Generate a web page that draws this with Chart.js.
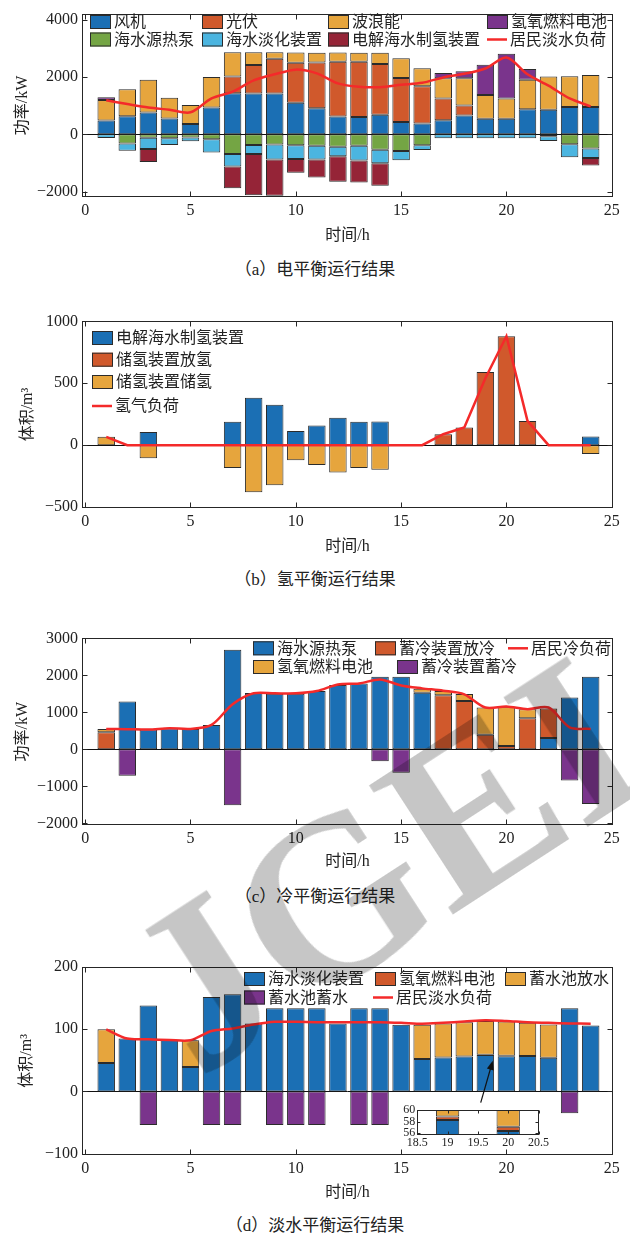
<!DOCTYPE html>
<html><head><meta charset="utf-8">
<script src="https://cdn.jsdelivr.net/npm/chart.js@4.4.0/dist/chart.umd.min.js"></script>
<style>
body{margin:0;background:#fff;width:630px;height:1241px;position:relative;overflow:hidden;}
canvas{position:absolute;}
.cap{position:absolute;left:0;width:630px;text-align:center;font-family:'Times New Roman','Liberation Serif','Noto Sans CJK SC',serif;font-size:17px;color:#222;line-height:20px;}
#wm{position:absolute;left:385px;top:865px;transform:translate(-50%,-50%) rotate(-33deg);font-family:'Times New Roman','Liberation Serif',serif;font-weight:bold;font-size:235px;color:#c6c6c6;mix-blend-mode:multiply;white-space:nowrap;pointer-events:none;line-height:1;}
</style></head><body>
<canvas id="ca" width="630" height="252" style="left:0;top:0"></canvas>
<canvas id="cb" width="630" height="260" style="left:0;top:300px"></canvas>
<canvas id="cc" width="630" height="262" style="left:0;top:615px"></canvas>
<canvas id="cd" width="630" height="263" style="left:0;top:945px"></canvas>
<canvas id="ci" width="160" height="52" style="left:390px;top:1100px"></canvas>
<div class="cap" style="top:260px">（a）电平衡运行结果</div>
<div class="cap" style="top:570px">（b）氢平衡运行结果</div>
<div class="cap" style="top:887px">（c）冷平衡运行结果</div>
<div class="cap" style="top:1216px">（d）淡水平衡运行结果</div>
<div id="wm">JGEI</div>
<script>
// ---------- data ----------
const hours = [1,2,3,4,5,6,7,8,9,10,11,12,13,14,15,16,17,18,19,20,21,22,23,24];
const xTicks = [0,5,10,15,20,25];

// (a) electricity balance, kW
const aWind  = [480,630,765,550,365,935,1440,1430,1430,1100,915,627,605,685,433,377,490,662,548,548,878,857,960,960];
const aPV    = [0,0,0,0,0,0,580,990,1210,1400,1600,1910,1930,1770,1535,1303,765,342,0,0,0,0,0,0];
const aWave  = [720,950,1140,730,665,1065,850,450,230,360,340,320,320,400,690,627,709,960,823,707,1028,1165,1073,1118];
const aFC    = [100,0,0,0,0,0,0,0,0,0,0,0,0,0,0,0,183,240,1063,1566,380,0,0,0];
const aHP    = [0,-320,-115,-135,-110,-170,-686,-370,-355,-385,-400,-435,-400,-540,-585,-377,0,0,0,0,0,-70,-343,-493];
const aDesal = [-130,-250,-400,-240,-130,-460,-435,-316,-520,-480,-480,-330,-515,-470,-320,-171,-137,-137,-137,-137,-137,-160,-457,-330];
const aElec  = [0,0,-450,0,0,0,-765,-1440,-1270,-480,-630,-890,-765,-790,0,0,0,0,0,0,0,0,0,-264];
const aLoad  = [1190,1060,940,860,770,1255,1490,1885,2100,2262,2130,1780,1660,1650,1730,1800,1990,2115,2300,2684,2100,1700,1255,980];
const aYTicks = [-2000,0,2000,4000];

// (b) hydrogen balance, m3
const bElec    = [0,0,107,0,0,0,188,383,327,115,158,222,188,190,0,0,0,0,0,0,0,0,0,70];
const bRelease = [0,0,0,0,0,0,0,0,0,0,0,0,0,0,0,0,88,142,590,879,196,0,0,0];
const bStore   = [67,0,-105,0,0,0,-185,-380,-324,-121,-161,-220,-185,-198,0,0,0,0,0,0,0,0,0,-72];
const bLoad    = [67,0,0,0,0,0,0,0,0,0,0,0,0,0,0,0,88,142,540,879,196,0,0,0];
const bYTicks = [-500,0,500,1000];

// (c) cooling balance, kW
const cHP      = [0,1290,534,570,552,659,2688,1522,1504,1504,1575,1736,1780,1958,1958,1530,0,0,0,0,0,303,1397,1958];
const cRelease = [463,0,0,0,0,0,0,0,0,0,0,0,0,0,0,0,1460,1308,392,89,837,800,0,0];
const cFC      = [89,0,0,0,0,0,0,0,0,0,0,0,0,0,0,108,115,187,738,1059,249,0,0,0];
const cStore   = [0,-712,0,0,0,0,-1513,0,0,0,0,0,0,-320,-632,0,0,0,0,0,0,0,-845,-1477];
const cLoad    = [552,545,534,570,552,659,1219,1513,1513,1513,1575,1753,1780,1887,1727,1647,1584,1486,1130,1157,1086,1130,596,552];
const cYTicks = [-2000,-1000,0,1000,2000,3000];

// (d) fresh water balance, m3
const dDesal   = [45.5,84.7,137.6,82.5,39,151.3,156,109,133.3,133.3,133.3,109,133.3,133.3,107,52,54.5,56,58.3,56.4,56.6,54,133.3,105.8];
const dFC      = [0,0,0,0,0,0,0,0,0,0,0,0,0,0,0,0,0,0,0.6,0.7,0,0,0,0];
const dRelease = [54,0,0,0,43,0,0,0,0,0,0,0,0,0,0,55,54.5,55,54.1,54.9,53.4,53.4,0,0];
const dStore   = [0,0,-54,0,0,-54,-54,0,-54,-54,-54,0,-54,-54,0,0,0,0,0,0,0,0,-35,0];
const dLoad    = [99.5,84.7,83.6,82.5,82,96.8,101,107.4,111.6,111.6,111,111,111,111,110,108.5,110,112,114.3,113,111,110,109,108.5];
const dYTicks = [-100,0,100,200];
const insetXTicks = [18.5,19,19.5,20,20.5];
const insetYTicks = [56,58,60];
const arrowD = {from:[18.78,-18], to:[19.35,49]};

// ---------- style ----------
const FONT = "'Times New Roman','Liberation Serif','Noto Sans CJK SC',serif";
const COL = {blue:'#1b6fb4', orange:'#d0592c', yellow:'#e6a53d', purple:'#7a348c', green:'#74a544', cyan:'#4bb5e0', maroon:'#952437', red:'#f42a2a', edge:'#2b2b2b'};
const X_MIN = -0.15, X_MAX = 25.06;

function pts(arr){ return hours.map((h,i)=>({x:h, y: arr[i]===0 ? null : arr[i]})); }
function linePts(arr){ return hours.map((h,i)=>({x:h, y:arr[i]})); }
function barDs(label, arr, color, bp){
  return {type:'bar', label, data:pts(arr), backgroundColor:color, borderColor:COL.edge, borderWidth:1,
          borderSkipped:false, barPercentage:bp||0.83, categoryPercentage:1, order:1};
}
function lineDs(label, arr, tension){
  return {type:'line', label, data:linePts(arr), borderColor:COL.red, borderWidth:2.5, pointRadius:0,
          tension:tension, fill:false, order:0};
}
const fmt = v => v < 0 ? '\u2212' + Math.abs(v) : String(v);

// ---------- plugins ----------
const frame = {
  id:'frame',
  beforeDatasetsDraw(chart, args, o){
    const {ctx, chartArea:ca} = chart; const y = chart.scales.y;
    ctx.save();
    if (o.bg){ ctx.fillStyle = o.bg; ctx.fillRect(ca.left, ca.top, ca.width, ca.height); }
    if (o.zero){
      const y0 = Math.round(y.getPixelForValue(0)) + 0.5;
      ctx.strokeStyle = '#111'; ctx.lineWidth = 1;
      ctx.beginPath(); ctx.moveTo(ca.left, y0); ctx.lineTo(ca.right, y0); ctx.stroke();
    }
    ctx.restore();
  },
  afterDatasetsDraw(chart, args, o){
    const {ctx, chartArea:ca} = chart; const x = chart.scales.x, y = chart.scales.y;
    const L = Math.round(ca.left)+0.5, R = Math.round(ca.right)-0.5, T = Math.round(ca.top)+0.5, B = Math.round(ca.bottom)-0.5;
    const tl = o.tick || 5;
    ctx.save();
    ctx.strokeStyle = '#262626'; ctx.lineWidth = 1;
    ctx.beginPath();
    (o.xTicks||[]).forEach(v => { const px = Math.round(x.getPixelForValue(v))+0.5;
      ctx.moveTo(px, B); ctx.lineTo(px, B-tl); ctx.moveTo(px, T); ctx.lineTo(px, T+tl); });
    (o.yTicks||[]).forEach(v => { const py = Math.round(y.getPixelForValue(v))+0.5;
      ctx.moveTo(L, py); ctx.lineTo(L+tl, py); ctx.moveTo(R, py); ctx.lineTo(R-tl, py); });
    ctx.stroke();
    ctx.strokeRect(L, T, R-L, B-T);
    if (o.arrow){
      const x1 = x.getPixelForValue(o.arrow.from[0]), y1 = y.getPixelForValue(o.arrow.from[1]);
      const x2 = x.getPixelForValue(o.arrow.to[0]), y2 = y.getPixelForValue(o.arrow.to[1]);
      const ang = Math.atan2(y2-y1, x2-x1), hl = 9, hw = 3.5;
      ctx.strokeStyle = '#111'; ctx.fillStyle = '#111'; ctx.lineWidth = 1.2;
      ctx.beginPath(); ctx.moveTo(x1,y1); ctx.lineTo(x2 - hl*0.8*Math.cos(ang), y2 - hl*0.8*Math.sin(ang)); ctx.stroke();
      ctx.beginPath(); ctx.moveTo(x2,y2);
      ctx.lineTo(x2 - hl*Math.cos(ang) + hw*Math.sin(ang), y2 - hl*Math.sin(ang) - hw*Math.cos(ang));
      ctx.lineTo(x2 - hl*Math.cos(ang) - hw*Math.sin(ang), y2 - hl*Math.sin(ang) + hw*Math.cos(ang));
      ctx.closePath(); ctx.fill();
    }
    ctx.restore();
  }
};

const boxLegend = {
  id:'boxLegend',
  afterDraw(chart, args, o){
    if (!o.items) return;
    const ctx = chart.ctx;
    ctx.save();
    ctx.font = '16px ' + FONT; ctx.textBaseline = 'middle'; ctx.fillStyle = '#222';
    o.items.forEach(it => {
      const ds = chart.data.datasets[it.i];
      if (ds.type === 'line'){
        ctx.strokeStyle = ds.borderColor; ctx.lineWidth = 2.5;
        ctx.beginPath(); ctx.moveTo(it.x, it.y); ctx.lineTo(it.x+20, it.y); ctx.stroke();
        ctx.fillStyle = '#222'; ctx.fillText(ds.label, it.x+23, it.y+1);
      } else {
        ctx.fillStyle = ds.backgroundColor; ctx.fillRect(it.x, it.y-7, 21, 14);
        ctx.strokeStyle = '#2b2b2b'; ctx.lineWidth = 1; ctx.strokeRect(it.x+0.5, it.y-6.5, 20, 13);
        ctx.fillStyle = '#222'; ctx.fillText(ds.label, it.x+24, it.y+1);
      }
    });
    ctx.restore();
  }
};

function makeChart(id, c){
  return new Chart(document.getElementById(id), {
    type:'bar',
    data:{datasets:c.datasets},
    options:{
      responsive:false, animation:false, devicePixelRatio:1,
      layout:{padding:{top:c.padTop, right:17, left:0, bottom:0}},
      plugins:{legend:{display:false}, tooltip:{enabled:false},
        boxLegend:{items:c.legend}, frame:{xTicks:xTicks, yTicks:c.yTicks, zero:true, arrow:c.arrow}},
      scales:{
        x:{type:'linear', min:X_MIN, max:X_MAX, offset:false, stacked:true,
           grid:{display:false, drawTicks:false, offset:false}, border:{display:false},
           afterBuildTicks:s=>{ s.ticks = xTicks.map(v=>({value:v})); },
           afterFit:s=>{ s.height = c.xAxisH; },
           ticks:{font:{family:FONT,size:16}, color:'#222', padding:4, maxRotation:0, autoSkip:false, callback:v=>String(v)},
           title:{display:true, text:'时间/h', font:{family:FONT,size:16}, color:'#222', padding:{top:0,bottom:c.xTitlePad}}},
        y:{type:'linear', min:c.yMin, max:c.yMax, stacked:true,
           grid:{display:false, drawTicks:false}, border:{display:false},
           afterBuildTicks:s=>{ s.ticks = c.yTicks.map(v=>({value:v})); },
           afterFit:s=>{ s.width = 82; },
           ticks:{font:{family:FONT,size:16}, color:'#222', padding:4, callback:fmt, autoSkip:false},
           title:{display:true, text:c.yTitle, font:{family:FONT,size:16}, color:'#222', padding:{top:c.yTitlePad||13,bottom:0}}}
      }
    },
    plugins:[frame, boxLegend]
  });
}

// (a)
makeChart('ca', {
  datasets:[
    barDs('风机', aWind, COL.blue), barDs('光伏', aPV, COL.orange), barDs('波浪能', aWave, COL.yellow),
    barDs('氢氧燃料电池', aFC, COL.purple), barDs('海水源热泵', aHP, COL.green), barDs('海水淡化装置', aDesal, COL.cyan),
    barDs('电解海水制氢装置', aElec, COL.maroon), lineDs('居民淡水负荷', aLoad, 0.3)],
  yMin:-2200, yMax:4220, yTicks:aYTicks, yTitle:'功率/kW', padTop:10, xAxisH:54.7, xTitlePad:6.4,
  legend:[{i:0,x:90,y:22},{i:1,x:202,y:22},{i:2,x:328,y:22},{i:3,x:487,y:22},
          {i:4,x:90,y:39.5},{i:5,x:202,y:39.5},{i:6,x:328,y:39.5},{i:7,x:487,y:39.5}]
});
// (b)
makeChart('cb', {
  datasets:[barDs('电解海水制氢装置', bElec, COL.blue), barDs('储氢装置放氢', bRelease, COL.orange),
            barDs('储氢装置储氢', bStore, COL.yellow), lineDs('氢气负荷', bLoad, 0)],
  yMin:-510, yMax:1005, yTicks:bYTicks, yTitle:'体积/m³', padTop:20.7, xAxisH:51.7, xTitlePad:3.4, yTitlePad:18,
  legend:[{i:0,x:92,y:38},{i:1,x:92,y:59.7},{i:2,x:92,y:82},{i:3,x:92,y:106}]
});
// (c)
makeChart('cc', {
  datasets:[barDs('海水源热泵', cHP, COL.blue), barDs('蓄冷装置放冷', cRelease, COL.orange),
            barDs('氢氧燃料电池', cFC, COL.yellow), barDs('蓄冷装置蓄冷', cStore, COL.purple),
            lineDs('居民冷负荷', cLoad, 0.3)],
  yMin:-2045, yMax:3000, yTicks:cYTicks, yTitle:'功率/kW', padTop:23.3, xAxisH:52, xTitlePad:5.4,
  legend:[{i:0,x:253,y:33.3},{i:1,x:375,y:33.3},{i:4,x:508,y:33.3},{i:2,x:253,y:52},{i:3,x:397,y:52}]
});
// (d)
makeChart('cd', {
  datasets:[barDs('海水淡化装置', dDesal, COL.blue), barDs('氢氧燃料电池', dFC, COL.orange),
            barDs('蓄水池放水', dRelease, COL.yellow), barDs('蓄水池蓄水', dStore, COL.purple),
            lineDs('居民淡水负荷', dLoad, 0.3)],
  yMin:-102, yMax:200, yTicks:dYTicks, yTitle:'体积/m³', padTop:21.7, xAxisH:53, xTitlePad:5.4, yTitlePad:17,
  legend:[{i:0,x:244,y:34},{i:1,x:375,y:34},{i:2,x:505,y:34},{i:3,x:244,y:52.5},{i:4,x:373,y:52.5}],
  arrow:arrowD
});
// inset of (d)
new Chart(document.getElementById('ci'), {
  type:'bar',
  data:{datasets:[barDs('海水淡化装置', dDesal, COL.blue, 0.77), barDs('氢氧燃料电池', dFC, COL.orange, 0.77),
                  barDs('蓄水池放水', dRelease, COL.yellow, 0.77)]},
  options:{
    responsive:false, animation:false, devicePixelRatio:1,
    layout:{padding:{top:10, right:9, left:0, bottom:0}},
    plugins:{legend:{display:false}, tooltip:{enabled:false},
      frame:{xTicks:insetXTicks, yTicks:insetYTicks, bg:'#fff', tick:3}},
    scales:{
      x:{type:'linear', min:18.5, max:20.5, offset:false, stacked:true,
         grid:{display:false, drawTicks:false, offset:false}, border:{display:false},
         afterBuildTicks:s=>{ s.ticks = insetXTicks.map(v=>({value:v})); },
         afterFit:s=>{ s.height = 17; },
         ticks:{font:{family:FONT,size:12}, color:'#222', padding:1, maxRotation:0, autoSkip:false, callback:v=>String(v)}},
      y:{type:'linear', min:55.7, max:60, stacked:true,
         grid:{display:false, drawTicks:false}, border:{display:false},
         afterBuildTicks:s=>{ s.ticks = insetYTicks.map(v=>({value:v})); },
         afterFit:s=>{ s.width = 27.3; },
         ticks:{font:{family:FONT,size:12}, color:'#222', padding:2, autoSkip:false, callback:v=>String(v)}}
    }
  },
  plugins:[frame]
});
</script>
</body></html>
